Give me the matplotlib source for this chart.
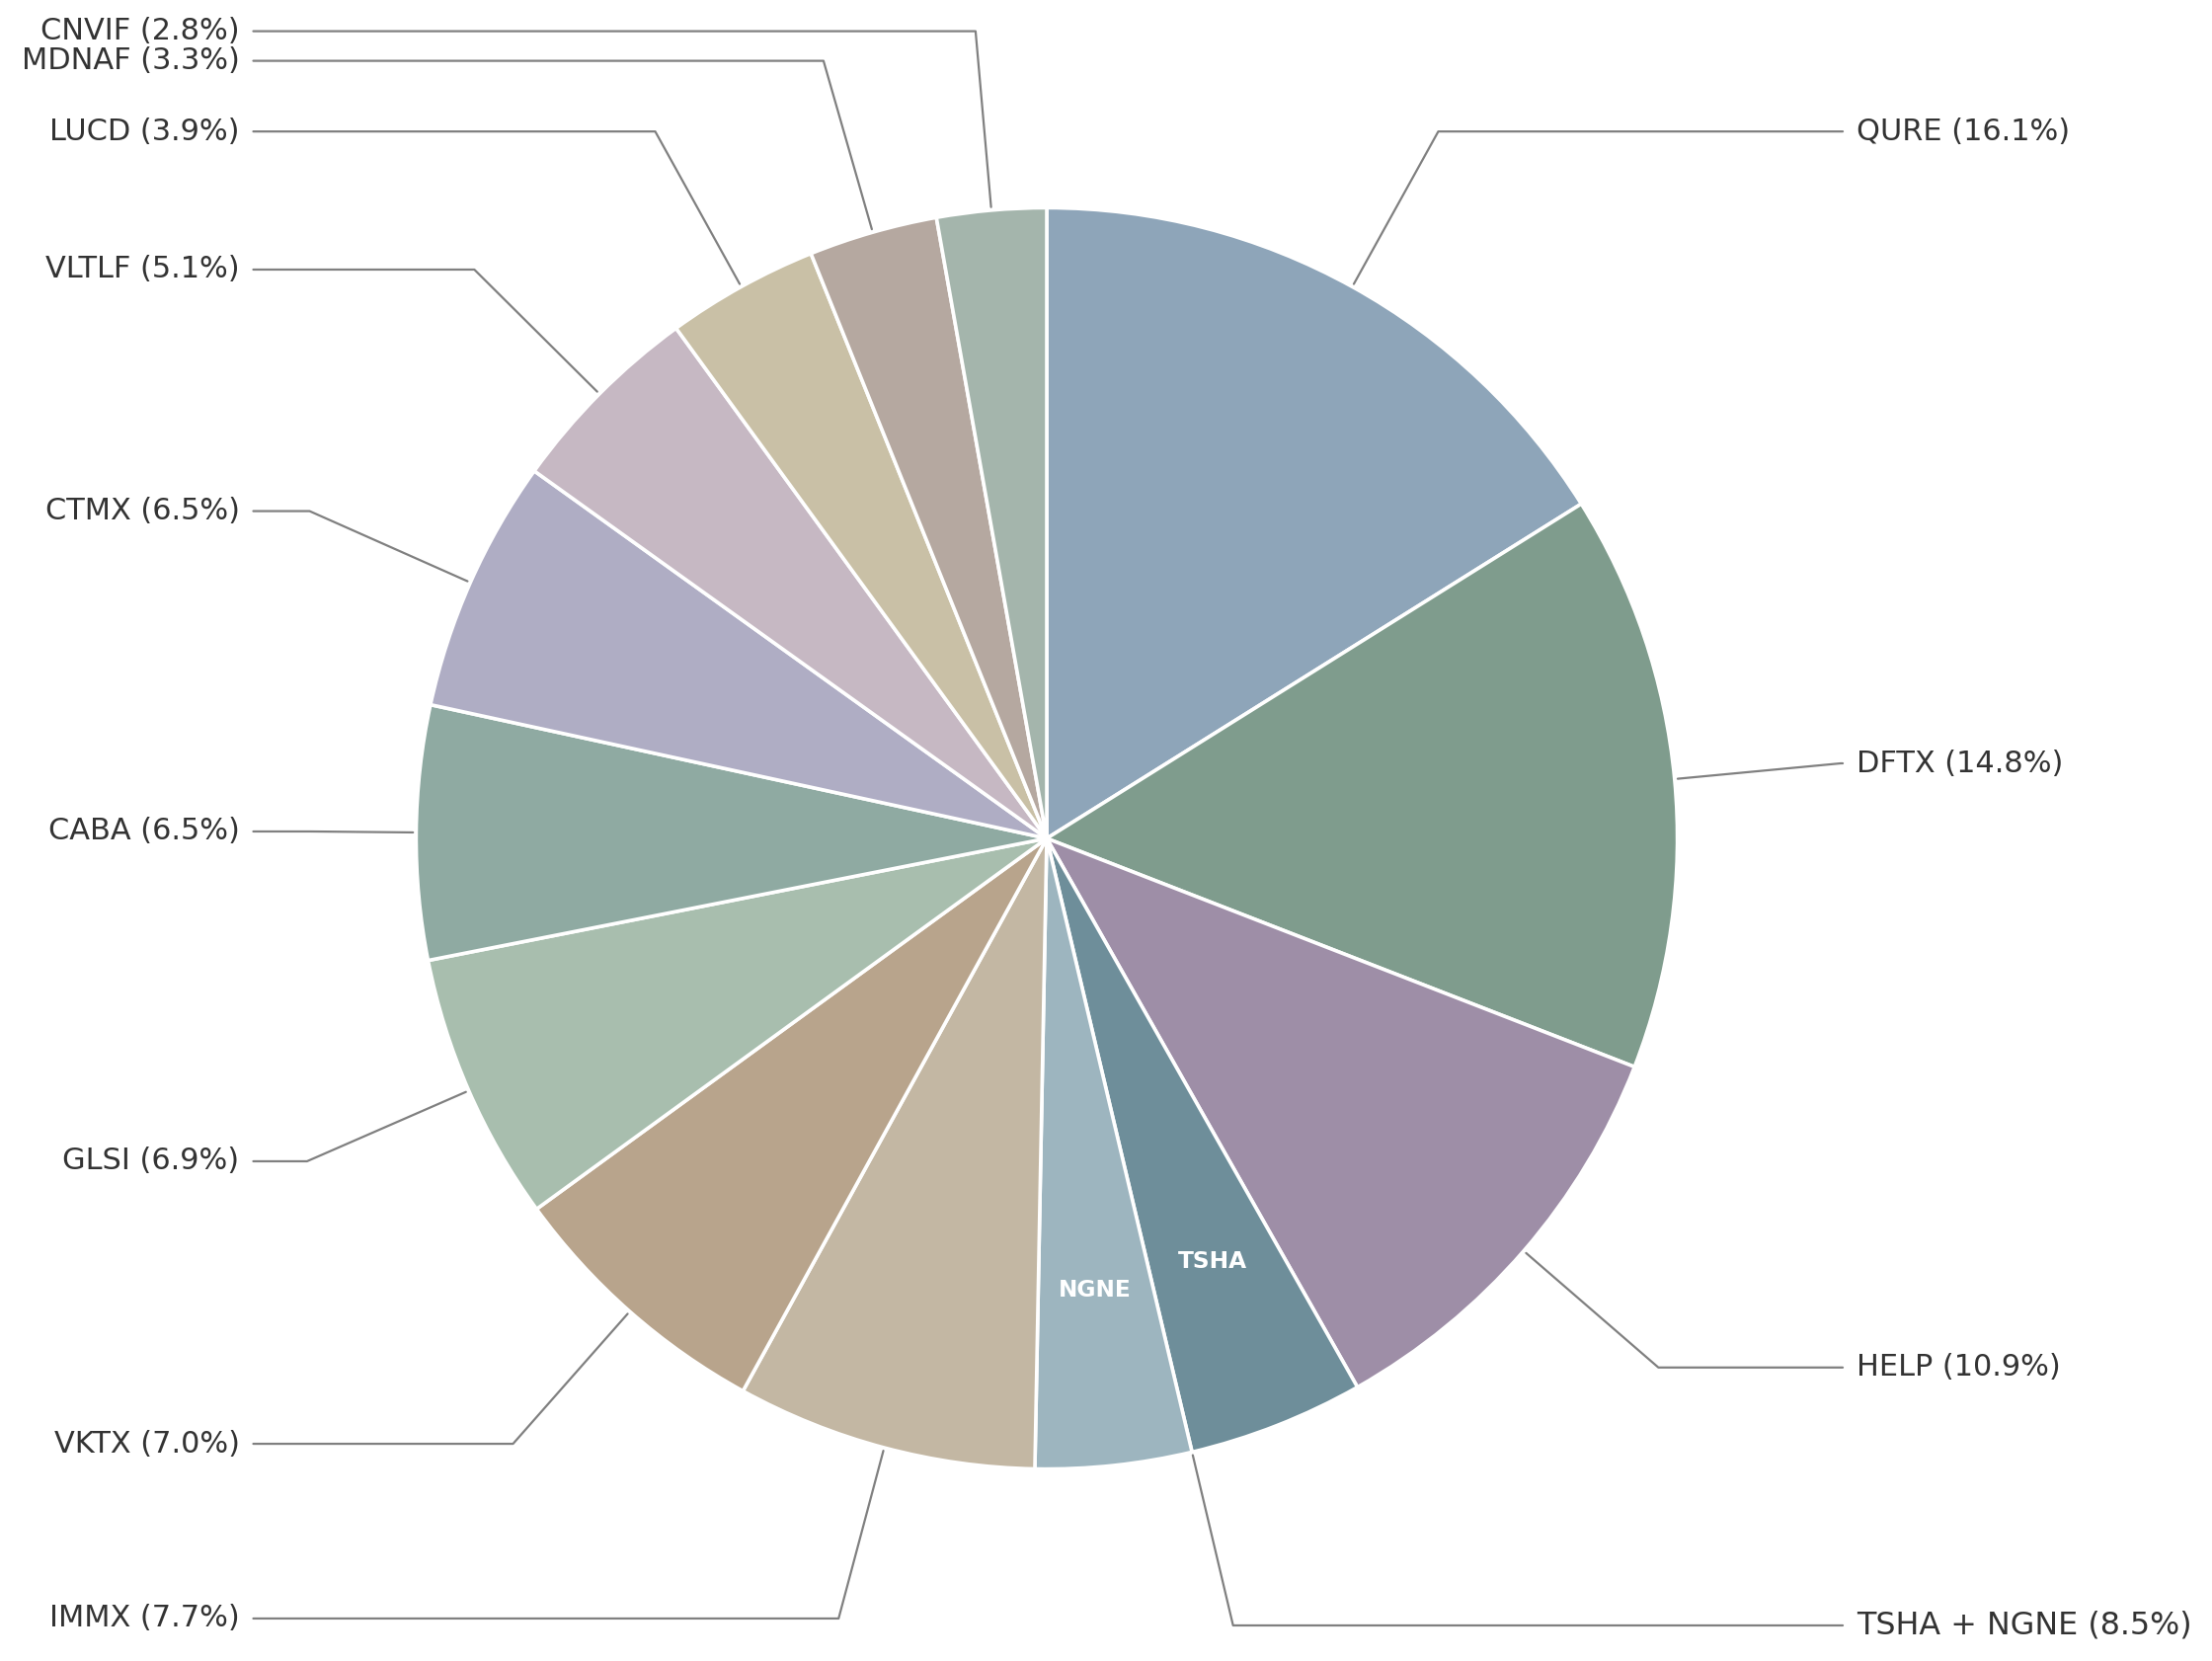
import numpy as np
import matplotlib
matplotlib.use("Agg")
import matplotlib.pyplot as plt

# ---- data ----
labels = ["QURE", "DFTX", "HELP", "TSHA", "NGNE", "IMMX", "VKTX", "GLSI",
          "CABA", "CTMX", "VLTLF", "LUCD", "MDNAF", "CNVIF"]
values = [16.1, 14.8, 10.9, 4.5, 4.0, 7.7, 7.0, 6.9, 6.5, 6.5, 5.1, 3.9, 3.3, 2.8]
colors = ["#8EA5B9", "#7F9C8D", "#9E8EA7", "#6E8E9A", "#9DB5BF", "#C3B7A3",
          "#B8A48C", "#A8BEAE", "#8FAAA2", "#AFADC4", "#C6B8C3", "#C9C0A6",
          "#B5A8A0", "#A4B5AC"]
# outer callout labels: (name, percent text, indices of wedges it points to)
callouts = [
    ("QURE", "16.1%", [0]),
    ("DFTX", "14.8%", [1]),
    ("HELP", "10.9%", [2]),
    ("TSHA + NGNE", "8.5%", [3, 4]),
    ("IMMX", "7.7%", [5]),
    ("VKTX", "7.0%", [6]),
    ("GLSI", "6.9%", [7]),
    ("CABA", "6.5%", [8]),
    ("CTMX", "6.5%", [9]),
    ("VLTLF", "5.1%", [10]),
    ("LUCD", "3.9%", [11]),
    ("MDNAF", "3.3%", [12]),
    ("CNVIF", "2.8%", [13]),
]
inner_labels = {3: "TSHA", 4: "NGNE"}

# label vertical positions (layout)
label_y = {
    "QURE": 1.121, "DFTX": 0.119, "HELP": -0.839, "TSHA + NGNE": -1.248,
    "IMMX": -1.237, "VKTX": -0.960, "GLSI": -0.512, "CABA": 0.011,
    "CTMX": 0.519, "VLTLF": 0.902, "LUCD": 1.121, "MDNAF": 1.233, "CNVIF": 1.280,
}

W, H = 2240, 1682
DPI = 200
fig = plt.figure(figsize=(W / DPI, H / DPI), dpi=DPI)
ax = fig.add_axes([0, 0, 1, 1])

wedges, _ = ax.pie(values, colors=colors, startangle=90, counterclock=False,
                   wedgeprops=dict(edgecolor="white", linewidth=1.3))

# place pie within figure
cx, cy, R = 1060.0, 849.0, 638.6
ax.set_xlim(-cx / R, (W - cx) / R)
ax.set_ylim(-(H - cy) / R, cy / R)
ax.set_aspect("equal", adjustable="datalim")
ax.axis("off")

# inner labels
for i, txt in inner_labels.items():
    w = wedges[i]
    ang = np.deg2rad((w.theta1 + w.theta2) / 2)
    ax.text(0.72 * np.cos(ang), 0.72 * np.sin(ang), txt, ha="center", va="center",
            color="white", fontsize=8.4, fontweight="bold")

# callouts
for name, pct, idx in callouts:
    if len(idx) > 1:
        # combined group: point at the shared boundary
        angd = wedges[idx[0]].theta1
    else:
        w = wedges[idx[0]]
        angd = (w.theta1 + w.theta2) / 2
    ang = np.deg2rad(angd)
    x, y = np.cos(ang), np.sin(ang)
    right = x > 0
    tx = 1.284 if right else -1.280
    fs = 11.45 if len(idx) > 1 else 10.95
    ax.annotate(f"{name} ({pct})", xy=(1.005 * x, 1.005 * y), xytext=(tx, label_y[name]),
                ha="left" if right else "right", va="center", fontsize=fs,
                color="#333333",
                arrowprops=dict(arrowstyle="-", color="#808080", lw=0.8,
                                shrinkA=3, shrinkB=0,
                                connectionstyle=f"angle,angleA=0,angleB={angd}"))

fig.savefig("out.png", dpi=DPI)
